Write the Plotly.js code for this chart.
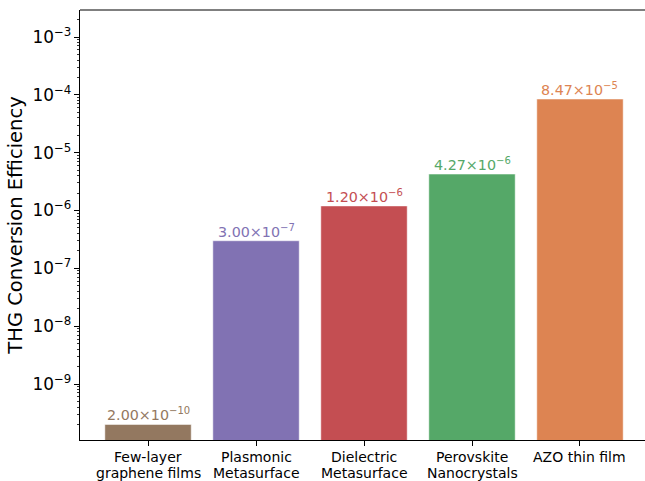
<!DOCTYPE html>
<html>
<head>
<meta charset="utf-8">
<script src="https://cdn.plot.ly/plotly-3.0.1.min.js"></script>
<style>
  html, body { margin: 0; padding: 0; background: #ffffff; }
  #chart { width: 645px; height: 481px; }
</style>
</head>
<body>
<div id="chart"></div>
<script>
// Third-harmonic generation efficiency by material platform
const categories = [
  "Few-layer<br>graphene films",
  "Plasmonic<br>Metasurface",
  "Dielectric<br>Metasurface",
  "Perovskite<br>Nanocrystals",
  "AZO thin film"
];
const efficiency = [2.00e-10, 3.00e-7, 1.20e-6, 4.27e-6, 8.47e-5];
const barColors = ["#937860", "#8172b3", "#c44e52", "#55a868", "#dd8452"];

// "a.bc×10⁻ⁿ" label text with a superscript exponent
function sciLabel(v) {
  const exp = Math.floor(Math.log10(v));
  const mant = v / Math.pow(10, exp);
  return mant.toFixed(2) + "×10<sup>\u2212" + Math.abs(exp) + "</sup>";
}

const xs = categories.map((_, i) => i);

const trace = {
  type: "bar",
  x: xs,
  y: efficiency,
  width: 0.8,
  marker: {
    color: barColors,
    line: { color: "rgba(255,255,255,0.5)", width: 1 }
  },
  hoverinfo: "skip"
};

// value labels above each bar
const valueLabels = efficiency.map((v, i) => ({
  x: i,
  y: Math.log10(v),
  xref: "x",
  yref: "y",
  text: sciLabel(v),
  showarrow: false,
  yanchor: "bottom",
  yshift: -1,
  font: { family: "DejaVu Sans", size: 14.3, color: barColors[i] }
}));

// category labels under the axis, one annotation per line for tight line spacing
const LINE_STEP = 15.5;
const categoryLabels = [];
categories.forEach((name, i) => {
  name.split("<br>").forEach((line, k) => {
    categoryLabels.push({
      x: i,
      y: 0,
      xref: "x",
      yref: "paper",
      text: line,
      showarrow: false,
      yanchor: "top",
      yshift: -7 - k * LINE_STEP,
      font: { family: "DejaVu Sans", size: 14, color: "#000000" }
    });
  });
});

const layout = {
  width: 645,
  height: 481,
  margin: { l: 80, r: 0, t: 10, b: 41 },
  paper_bgcolor: "#ffffff",
  plot_bgcolor: "#ffffff",
  font: { family: "DejaVu Sans", size: 13.5, color: "#000000" },
  showlegend: false,
  bargap: 0,
  xaxis: {
    range: [-0.63, 4.602],
    tickmode: "array",
    tickvals: xs,
    showticklabels: false,
    ticks: "outside",
    ticklen: 5,
    tickwidth: 1,
    tickcolor: "#000000",
    showline: true,
    linecolor: "#000000",
    linewidth: 1,
    showgrid: false,
    zeroline: false
  },
  yaxis: {
    type: "log",
    range: [-9.968, -2.533],
    dtick: 1,
    exponentformat: "power",
    ticks: "outside",
    ticklen: 5,
    tickwidth: 1,
    tickcolor: "#000000",
    minor: { ticks: "outside", ticklen: 2.5, tickwidth: 0.8, tickcolor: "#000000", dtick: "D1", showgrid: false },
    showline: true,
    linecolor: "#000000",
    linewidth: 1,
    showgrid: false,
    zeroline: false,
    tickfont: { family: "DejaVu Sans", size: 13.5, color: "#000000" },
    title: {
      text: "THG Conversion Efficiency",
      font: { family: "DejaVu Sans", size: 19.5, color: "#000000" },
      standoff: 4
    }
  },
  shapes: [
    {
      type: "line", xref: "paper", yref: "paper",
      x0: 0, x1: 1, y0: 1, y1: 1,
      line: { color: "#000000", width: 1 }
    }
  ],
  annotations: valueLabels.concat(categoryLabels)
};

Plotly.newPlot("chart", [trace], layout, { displayModeBar: false, staticPlot: true });
</script>
</body>
</html>
